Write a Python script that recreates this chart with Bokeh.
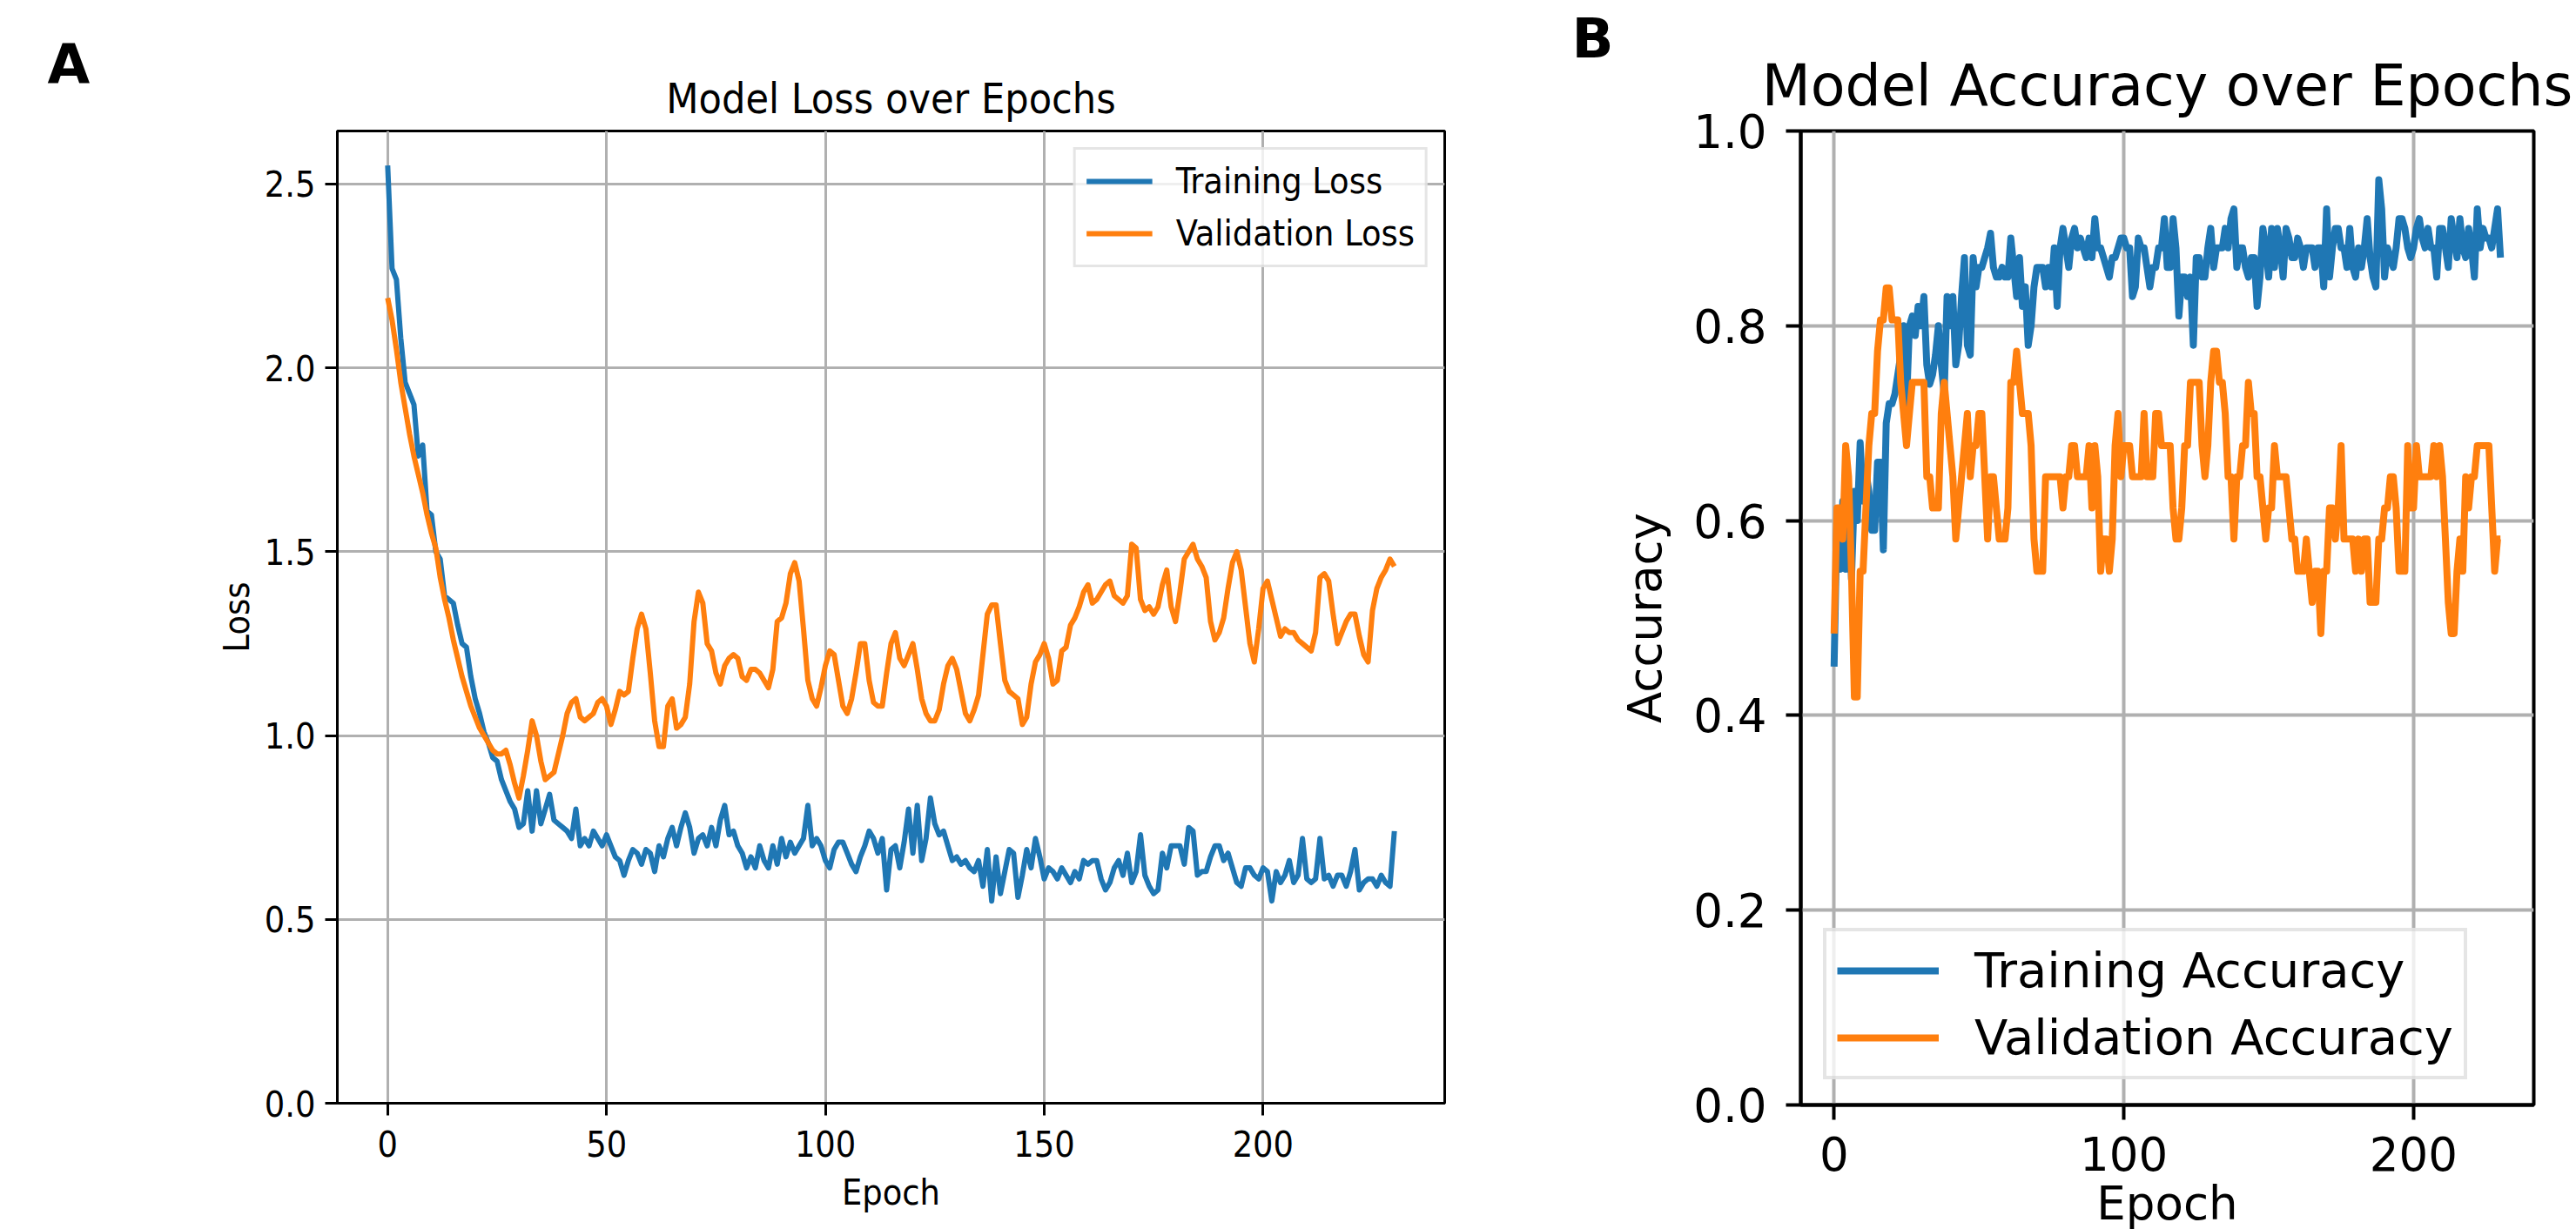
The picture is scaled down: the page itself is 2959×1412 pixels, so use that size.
from bokeh.plotting import figure
from bokeh.layouts import row
from bokeh.models import Range1d, FixedTicker, Title
from bokeh.embed import file_html
from bokeh.resources import INLINE

# ---------------- data ----------------
epochs = list(range(231))

train_loss = [
    2.55, 2.27, 2.24, 2.08, 1.96, 1.93, 1.90, 1.76, 1.79, 1.61,
    1.60, 1.50, 1.48, 1.38, 1.37, 1.36, 1.30, 1.25, 1.24, 1.16,
    1.10, 1.06, 1.01, 0.98, 0.94, 0.93, 0.88, 0.85, 0.82, 0.80,
    0.75, 0.76, 0.85, 0.74, 0.85, 0.76, 0.80, 0.84, 0.77, 0.76,
    0.75, 0.74, 0.72, 0.80, 0.70, 0.72, 0.70, 0.74, 0.72, 0.70,
    0.73, 0.70, 0.67, 0.66, 0.62, 0.66, 0.69, 0.68, 0.65, 0.69,
    0.68, 0.63, 0.70, 0.67, 0.72, 0.75, 0.70, 0.75, 0.79, 0.75,
    0.68, 0.72, 0.73, 0.70, 0.75, 0.70, 0.77, 0.81, 0.73, 0.74,
    0.70, 0.68, 0.64, 0.67, 0.64, 0.70, 0.66, 0.64, 0.70, 0.65,
    0.72, 0.67, 0.71, 0.68, 0.70, 0.72, 0.81, 0.70, 0.72, 0.70,
    0.66, 0.64, 0.69, 0.71, 0.71, 0.68, 0.65, 0.63, 0.67, 0.70,
    0.74, 0.72, 0.68, 0.72, 0.58, 0.69, 0.70, 0.64, 0.71, 0.80,
    0.68, 0.81, 0.66, 0.72, 0.83, 0.76, 0.73, 0.74, 0.70, 0.66,
    0.67, 0.65, 0.66, 0.64, 0.63, 0.66, 0.59, 0.69, 0.55, 0.67,
    0.57, 0.63, 0.69, 0.68, 0.56, 0.62, 0.69, 0.64, 0.72, 0.67,
    0.61, 0.64, 0.63, 0.61, 0.64, 0.62, 0.60, 0.63, 0.61, 0.66,
    0.65, 0.66, 0.66, 0.61, 0.58, 0.60, 0.64, 0.66, 0.62, 0.68,
    0.60, 0.63, 0.73, 0.62, 0.59, 0.57, 0.58, 0.68, 0.64, 0.70,
    0.70, 0.70, 0.65, 0.75, 0.74, 0.62, 0.63, 0.63, 0.67, 0.70,
    0.70, 0.66, 0.68, 0.64, 0.60, 0.59, 0.64, 0.64, 0.62, 0.61,
    0.64, 0.63, 0.55, 0.63, 0.60, 0.62, 0.66, 0.60, 0.62, 0.72,
    0.61, 0.60, 0.61, 0.72, 0.61, 0.62, 0.59, 0.62, 0.62, 0.59,
    0.63, 0.69, 0.58, 0.60, 0.61, 0.61, 0.59, 0.62, 0.60, 0.59,
    0.74,
]

val_loss = [
    2.19, 2.13, 2.05, 1.96, 1.89, 1.82, 1.76, 1.71, 1.66, 1.60,
    1.55, 1.51, 1.43, 1.37, 1.32, 1.26, 1.21, 1.16, 1.12, 1.08,
    1.05, 1.02, 1.00, 0.98, 0.96, 0.95, 0.95, 0.96, 0.92, 0.87,
    0.83, 0.89, 0.96, 1.04, 1.00, 0.93, 0.88, 0.89, 0.90, 0.95,
    1.00, 1.06, 1.09, 1.10, 1.05, 1.04, 1.05, 1.06, 1.09, 1.10,
    1.08, 1.03, 1.07, 1.12, 1.11, 1.12, 1.21, 1.29, 1.33, 1.29,
    1.17, 1.04, 0.97, 0.97, 1.08, 1.10, 1.02, 1.03, 1.05, 1.14,
    1.31, 1.39, 1.36, 1.25, 1.23, 1.17, 1.14, 1.19, 1.21, 1.22,
    1.21, 1.16, 1.15, 1.18, 1.18, 1.17, 1.15, 1.13, 1.18, 1.31,
    1.32, 1.36, 1.44, 1.47, 1.42, 1.29, 1.15, 1.10, 1.08, 1.13,
    1.19, 1.23, 1.22, 1.15, 1.08, 1.06, 1.10, 1.17, 1.25, 1.25,
    1.15, 1.09, 1.08, 1.08, 1.17, 1.25, 1.28, 1.21, 1.19, 1.22,
    1.25, 1.18, 1.10, 1.06, 1.04, 1.04, 1.07, 1.14, 1.19, 1.21,
    1.18, 1.12, 1.06, 1.04, 1.07, 1.11, 1.22, 1.33, 1.355, 1.355,
    1.25, 1.15, 1.12, 1.11, 1.10, 1.03, 1.05, 1.14, 1.20, 1.22,
    1.25, 1.21, 1.14, 1.15, 1.23, 1.24, 1.30, 1.32, 1.35, 1.39,
    1.41, 1.36, 1.37, 1.39, 1.41, 1.42, 1.38, 1.37, 1.36, 1.38,
    1.52, 1.51, 1.37, 1.34, 1.35, 1.33, 1.35, 1.41, 1.45, 1.35,
    1.31, 1.39, 1.48, 1.50, 1.52, 1.48, 1.46, 1.43, 1.31, 1.26,
    1.28, 1.32, 1.40, 1.47, 1.50, 1.45, 1.35, 1.25, 1.20, 1.29,
    1.40, 1.42, 1.37, 1.32, 1.27, 1.29, 1.28, 1.28, 1.26, 1.25,
    1.24, 1.23, 1.28, 1.43, 1.44, 1.42, 1.33, 1.25, 1.28, 1.31,
    1.33, 1.33, 1.27, 1.22, 1.20, 1.34, 1.40, 1.43, 1.45, 1.48,
    1.46,
]

train_acc = [
    0.45, 0.60, 0.55, 0.62, 0.55, 0.62, 0.54, 0.63, 0.60, 0.68,
    0.62, 0.65, 0.63, 0.59, 0.59, 0.66, 0.66, 0.57, 0.70, 0.72,
    0.72, 0.73, 0.75, 0.77, 0.80, 0.72, 0.80, 0.81, 0.79, 0.82,
    0.80, 0.83, 0.76, 0.74, 0.75, 0.77, 0.80, 0.76, 0.73, 0.83,
    0.80, 0.83, 0.76, 0.78, 0.83, 0.87, 0.78, 0.77, 0.87, 0.84,
    0.86, 0.86, 0.87, 0.88, 0.895, 0.86, 0.85, 0.85, 0.86, 0.85,
    0.85, 0.89, 0.86, 0.83, 0.87, 0.82, 0.84, 0.78, 0.80, 0.84,
    0.86, 0.86, 0.86, 0.84, 0.86, 0.84, 0.88, 0.82, 0.88, 0.90,
    0.88, 0.86, 0.89, 0.90, 0.88, 0.89, 0.88, 0.87, 0.89, 0.87,
    0.91, 0.88, 0.88, 0.87, 0.86, 0.85, 0.87, 0.87, 0.88, 0.89,
    0.89, 0.88, 0.88, 0.83, 0.84, 0.89, 0.88, 0.88, 0.86, 0.84,
    0.86, 0.86, 0.88, 0.88, 0.91, 0.86, 0.86, 0.91, 0.88, 0.81,
    0.85, 0.85, 0.83, 0.85, 0.78, 0.87, 0.87, 0.85, 0.85, 0.88,
    0.90, 0.86, 0.88, 0.88, 0.88, 0.90, 0.88, 0.91, 0.92, 0.86,
    0.88, 0.88, 0.86, 0.85, 0.87, 0.87, 0.82, 0.85, 0.90, 0.88,
    0.85, 0.90, 0.86, 0.90, 0.88, 0.85, 0.90, 0.89, 0.87, 0.87,
    0.89, 0.88, 0.86, 0.88, 0.88, 0.88, 0.86, 0.88, 0.88, 0.84,
    0.92, 0.85, 0.88, 0.90, 0.90, 0.88, 0.88, 0.86, 0.90, 0.86,
    0.85, 0.88, 0.86, 0.88, 0.91, 0.87, 0.85, 0.84, 0.95, 0.92,
    0.85, 0.88, 0.87, 0.86, 0.88, 0.91, 0.91, 0.90, 0.88, 0.87,
    0.88, 0.90, 0.91, 0.89, 0.88, 0.90, 0.88, 0.88, 0.85, 0.90,
    0.90, 0.88, 0.86, 0.91, 0.89, 0.87, 0.91, 0.88, 0.87, 0.90,
    0.88, 0.85, 0.92, 0.88, 0.90, 0.89, 0.89, 0.88, 0.90, 0.92,
    0.87,
]

val_acc = [
    0.484, 0.613, 0.613, 0.581, 0.677, 0.645, 0.548, 0.419, 0.419, 0.548,
    0.548, 0.613, 0.677, 0.710, 0.710, 0.774, 0.806, 0.806, 0.839, 0.839,
    0.806, 0.806, 0.806, 0.742, 0.710, 0.677, 0.710, 0.742, 0.742, 0.742,
    0.742, 0.742, 0.645, 0.645, 0.613, 0.613, 0.613, 0.710, 0.742, 0.710,
    0.677, 0.645, 0.581, 0.613, 0.645, 0.677, 0.710, 0.645, 0.677, 0.677,
    0.710, 0.710, 0.645, 0.581, 0.645, 0.645, 0.613, 0.581, 0.581, 0.581,
    0.613, 0.742, 0.742, 0.774, 0.742, 0.710, 0.710, 0.710, 0.677, 0.581,
    0.548, 0.548, 0.548, 0.645, 0.645, 0.645, 0.645, 0.645, 0.645, 0.613,
    0.645, 0.645, 0.677, 0.677, 0.645, 0.645, 0.645, 0.645, 0.677, 0.613,
    0.677, 0.645, 0.548, 0.581, 0.581, 0.548, 0.581, 0.677, 0.710, 0.645,
    0.677, 0.677, 0.677, 0.645, 0.645, 0.645, 0.645, 0.710, 0.645, 0.645,
    0.645, 0.710, 0.710, 0.677, 0.677, 0.677, 0.677, 0.613, 0.581, 0.581,
    0.613, 0.677, 0.677, 0.742, 0.742, 0.742, 0.742, 0.677, 0.645, 0.677,
    0.742, 0.774, 0.774, 0.742, 0.742, 0.710, 0.645, 0.645, 0.581, 0.645,
    0.645, 0.677, 0.677, 0.742, 0.710, 0.710, 0.645, 0.645, 0.613, 0.581,
    0.613, 0.613, 0.677, 0.645, 0.645, 0.645, 0.645, 0.613, 0.581, 0.581,
    0.548, 0.548, 0.548, 0.581, 0.548, 0.516, 0.548, 0.548, 0.484, 0.548,
    0.548, 0.613, 0.613, 0.581, 0.613, 0.677, 0.581, 0.581, 0.581, 0.581,
    0.548, 0.581, 0.548, 0.581, 0.581, 0.516, 0.516, 0.516, 0.581, 0.581,
    0.613, 0.613, 0.645, 0.645, 0.613, 0.548, 0.548, 0.548, 0.677, 0.613,
    0.613, 0.677, 0.645, 0.645, 0.645, 0.645, 0.645, 0.677, 0.645, 0.677,
    0.645, 0.581, 0.516, 0.484, 0.484, 0.548, 0.581, 0.548, 0.645, 0.613,
    0.645, 0.645, 0.677, 0.677, 0.677, 0.677, 0.677, 0.613, 0.548, 0.581,
    0.581,
]

loss_xticks = [0, 50, 100, 150, 200]
loss_xtick_labels = ["0", "50", "100", "150", "200"]
loss_yticks = [0.0, 0.5, 1.0, 1.5, 2.0, 2.5]
loss_ytick_labels = ["0.0", "0.5", "1.0", "1.5", "2.0", "2.5"]
acc_xticks = [0, 100, 200]
acc_xtick_labels = ["0", "100", "200"]
acc_yticks = [0.0, 0.2, 0.4, 0.6, 0.8, 1.0]
acc_ytick_labels = ["0.0", "0.2", "0.4", "0.6", "0.8", "1.0"]

BLUE = "#1f77b4"
ORANGE = "#ff7f0e"
FONT_A = "DejaVu Sans Condensed"
FONT_B = "DejaVu Sans"


def style_axes(p, font, fs, tick_len, lw, xticks, xlabels, yticks, ylabels,
               xstand, ystand, ylab_stand, xlab_stand):
    p.xaxis.ticker = FixedTicker(ticks=xticks)
    p.yaxis.ticker = FixedTicker(ticks=yticks)
    p.xaxis.major_label_overrides = {t: l for t, l in zip(xticks, xlabels)}
    p.yaxis.major_label_overrides = {t: l for t, l in zip(yticks, ylabels)}
    for ax in (p.xaxis[0], p.yaxis[0]):
        ax.minor_tick_line_color = None
        ax.major_tick_in = 0
        ax.major_tick_out = tick_len
        ax.major_tick_line_width = lw
        ax.major_tick_line_color = "black"
        ax.axis_line_width = lw
        ax.axis_line_color = "black"
        ax.major_label_text_font = font
        ax.major_label_text_font_size = fs
        ax.major_label_text_color = "black"
        ax.axis_label_text_font = font
        ax.axis_label_text_font_size = fs
        ax.axis_label_text_font_style = "normal"
        ax.axis_label_text_color = "black"
    p.xaxis.major_label_standoff = xstand
    p.yaxis.major_label_standoff = ystand
    p.yaxis.axis_label_standoff = ylab_stand
    p.xaxis.axis_label_standoff = xlab_stand
    p.grid.grid_line_color = "#b0b0b0"
    p.grid.grid_line_width = lw
    p.xgrid.ticker = FixedTicker(ticks=xticks)
    p.ygrid.ticker = FixedTicker(ticks=yticks)
    p.outline_line_color = "black"
    p.outline_line_width = lw
    p.outline_line_alpha = 1.0
    p.background_fill_color = "white"
    p.border_fill_color = "white"


# ---------------- panel A: loss ----------------
pA = figure(frame_width=1272, frame_height=1117,
            min_border_left=387, min_border_right=41,
            min_border_top=150, min_border_bottom=145,
            x_range=Range1d(-11.5, 241.5), y_range=Range1d(0, 2.644),
            output_backend="svg", toolbar_location=None, title=None)

# chart title (nearest the frame), then the panel letter stacked above it
pA.add_layout(Title(text="Model Loss over Epochs", align="center", standoff=20,
                    text_font=FONT_A, text_font_style="normal",
                    text_font_size="48px", text_color="black"), "above")
pA.add_layout(Title(text="A", align="left", offset=-333, standoff=-74,
                    text_font="DejaVu Sans", text_font_style="bold",
                    text_font_size="63px", text_color="black"), "above")

style_axes(pA, FONT_A, "41px", 14, 3, loss_xticks, loss_xtick_labels,
           loss_yticks, loss_ytick_labels, 17, 11, 5, 14)
pA.xaxis.axis_label = "Epoch"
pA.yaxis.axis_label = "Loss"

pA.line(epochs, train_loss, color=BLUE, line_width=6, line_join="round",
        legend_label="Training Loss")
pA.line(epochs, val_loss, color=ORANGE, line_width=6, line_join="round",
        legend_label="Validation Loss")

lgA = pA.legend[0]
lgA.location = "top_right"
lgA.margin = 19
lgA.padding = 12
lgA.spacing = 12
lgA.label_height = 48
lgA.glyph_height = 48
lgA.glyph_width = 76
lgA.label_standoff = 27
lgA.label_text_font = FONT_A
lgA.label_text_font_size = "41px"
lgA.label_text_color = "black"
lgA.border_line_color = "#cccccc"
lgA.border_line_width = 3
lgA.background_fill_alpha = 0.8

# ---------------- panel B: accuracy ----------------
pB = figure(frame_width=842, frame_height=1119,
            min_border_left=368, min_border_right=49,
            min_border_top=148, min_border_bottom=145,
            x_range=Range1d(-11.5, 241.5), y_range=Range1d(0, 1.0),
            output_backend="svg", toolbar_location=None, title=None)

pB.add_layout(Title(text="Model Accuracy over Epochs", align="center",
                    standoff=30, text_font=FONT_B, text_font_style="normal",
                    text_font_size="65px", text_color="black"), "above")
pB.add_layout(Title(text="B", align="left", offset=-263, standoff=-74,
                    text_font="DejaVu Sans", text_font_style="bold",
                    text_font_size="63px", text_color="black"), "above")

style_axes(pB, FONT_B, "53px", 17, 4, acc_xticks, acc_xtick_labels,
           acc_yticks, acc_ytick_labels, 19, 22, 22, 4)
pB.xaxis.axis_label = "Epoch"
pB.yaxis.axis_label = "Accuracy"

pB.line(epochs, train_acc, color=BLUE, line_width=8, line_join="round",
        legend_label="Training Accuracy")
pB.line(epochs, val_acc, color=ORANGE, line_width=8, line_join="round",
        legend_label="Validation Accuracy")

lgB = pB.legend[0]
lgB.location = (26, 29)
lgB.padding = 12
lgB.spacing = 12
lgB.label_height = 62
lgB.glyph_height = 62
lgB.glyph_width = 117
lgB.label_standoff = 41
lgB.label_text_font = FONT_B
lgB.label_text_font_size = "56px"
lgB.label_text_color = "black"
lgB.border_line_color = "#cccccc"
lgB.border_line_width = 4
lgB.background_fill_alpha = 0.8

layout = row(pA, pB)
open("out.html", "w").write(file_html(layout, INLINE))
